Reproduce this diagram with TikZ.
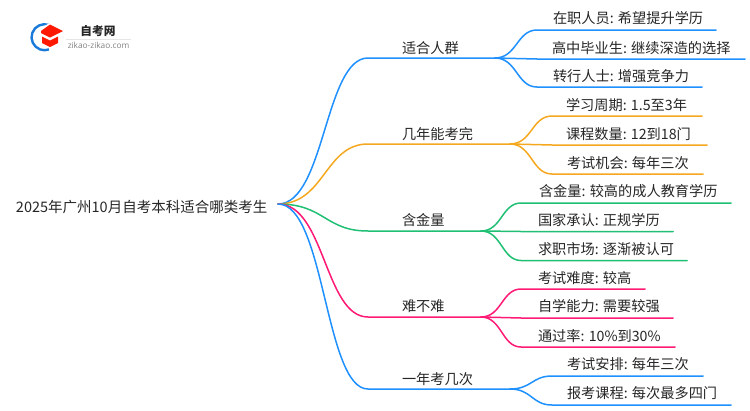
\documentclass[tikz,border=0pt]{standalone}
\usepackage{fontspec}
\usetikzlibrary{calc}
\setmainfont{Noto Sans CJK SC}
\setsansfont{Open Sans}
\definecolor{cblue}{HTML}{1E90FF}
\definecolor{corange}{HTML}{F5A81F}
\definecolor{cgreen}{HTML}{1FBF74}
\definecolor{cpink}{HTML}{FF1A75}
\definecolor{cink}{HTML}{262626}
\tikzset{
  lab/.style={anchor=base west,inner sep=0pt,outer sep=0pt,text=cink,font=\fontsize{14.2pt}{16pt}\selectfont},
  rootlab/.style={lab,font=\fontsize{14.5pt}{16pt}\selectfont},
  wire/.style={line width=1.5pt,line cap=round},
}
\newcommand{\mmcurve}[4]{%
  \coordinate (mid) at ($(#2)!0.52!(#3)$);
  \draw[wire,#1] (#2) .. controls (mid |- #2) and (mid |- #3) .. (#3) -- (#4);}
\begin{document}
\begin{tikzpicture}[x=1pt,y=-1pt]
\useasboundingbox (0,0) rectangle (750,410);
% logo
\draw[cblue!85!black,line width=2.4pt] (49,25) arc[start angle=-70,end angle=-290,radius=13];
\fill[white] (40,28) -- (52,22) -- (64,30) -- (56,50) -- (46,47) -- cycle;
\fill[red!80!orange] (50,24.5) -- (63,31) -- (50,37.5) -- (41,33) -- (41,31) -- cycle;
\fill[red!80!orange] (42,36.5) -- (50,40.5) -- (58,36.5) -- (58,43) -- (50,47) -- (42,43) -- cycle;
\node[anchor=center,inner sep=0pt,font=\fontsize{11.7pt}{12pt}\bfseries\selectfont,text=cink] (logot) at (98,31) {自考网};
\draw[black!10,line width=0.5pt] (66,39) -- (131,39);
\node[anchor=center,inner sep=0pt,font=\sffamily\fontsize{8.3pt}{9pt}\selectfont,text=black!50] (logou) at (98.5,45) {zikao-zikao.com};
% root
\node[rootlab] (root) at (16,212) {2025年广州10月自考本科适合哪类考生};
\coordinate (r) at (278,204);
% level-1 labels
\node[lab] (a) at (402,53.5) {适合人群};
\node[lab] (b) at (402,139.5) {几年能考完};
\node[lab] (c) at (402,225.5) {含金量};
\node[lab] (d) at (402,311.5) {难不难};
\node[lab] (e) at (402,384.5) {一年考几次};
% level-2 labels
\node[lab] (a1) at (553,23) {在职人员: 希望提升学历};
\node[lab] (a2) at (552,53) {高中毕业生: 继续深造的选择};
\node[lab] (a3) at (553,81.5) {转行人士: 增强竞争力};
\node[lab] (b1) at (566,110.5) {学习周期: 1.5至3年};
\node[lab] (b2) at (566,139.5) {课程数量: 12到18门};
\node[lab] (b3) at (567,168.5) {考试机会: 每年三次};
\node[lab] (c1) at (539,196.5) {含金量: 较高的成人教育学历};
\node[lab] (c2) at (538,225.5) {国家承认: 正规学历};
\node[lab] (c3) at (538,254.5) {求职市场: 逐渐被认可};
\node[lab] (d1) at (538,283.5) {考试难度: 较高};
\node[lab] (d2) at (538,311.5) {自学能力: 需要较强};
\node[lab] (d3) at (538,341.5) {通过率: 10\%到30\%};
\node[lab] (e1) at (567,369.5) {考试安排: 每年三次};
\node[lab] (e2) at (567,398.5) {报考课程: 每次最多四门};
% junctions
\foreach \n/\x/\y/\ex in {A/368/58/495,B/368/144/510,C/368/231/481,D/368/317/481,E/368/389/510}{
  \coordinate (\n s) at (\x,\y);
  \coordinate (\n e) at (\ex,\y);
}
\mmcurve{cblue}{r}{As}{Ae}
\mmcurve{corange}{r}{Bs}{Be}
\mmcurve{cgreen}{r}{Cs}{Ce}
\mmcurve{cpink}{r}{Ds}{De}
\mmcurve{cblue}{r}{Es}{Ee}
% children
\foreach \p/\ax/\y/\ex/\n in {Ae/537/30/716/1,Ae/537/59/745/2,Ae/537/87/702/3}{\coordinate (t\n) at (\ax,\y);\coordinate (u\n) at (\ex,\y);\mmcurve{cblue}{\p}{t\n}{u\n}}
\foreach \p/\ax/\y/\ex/\n in {Be/552/116/702/1,Be/552/145/707/2,Be/552/174/703/3}{\coordinate (t\n) at (\ax,\y);\coordinate (u\n) at (\ex,\y);\mmcurve{corange}{\p}{t\n}{u\n}}
\foreach \p/\ax/\y/\ex/\n in {Ce/521/203/731/1,Ce/521/231.5/673/2,Ce/521/260.5/687/3}{\coordinate (t\n) at (\ax,\y);\coordinate (u\n) at (\ex,\y);\mmcurve{cgreen}{\p}{t\n}{u\n}}
\foreach \p/\ax/\y/\ex/\n in {De/521/289/645/1,De/521/318/673/2,De/521/347/675/3}{\coordinate (t\n) at (\ax,\y);\coordinate (u\n) at (\ex,\y);\mmcurve{cpink}{\p}{t\n}{u\n}}
\foreach \p/\ax/\y/\ex/\n in {Ee/552/376/703/1,Ee/552/405/731/2}{\coordinate (t\n) at (\ax,\y);\coordinate (u\n) at (\ex,\y);\mmcurve{cblue}{\p}{t\n}{u\n}}
\end{tikzpicture}
\end{document}
